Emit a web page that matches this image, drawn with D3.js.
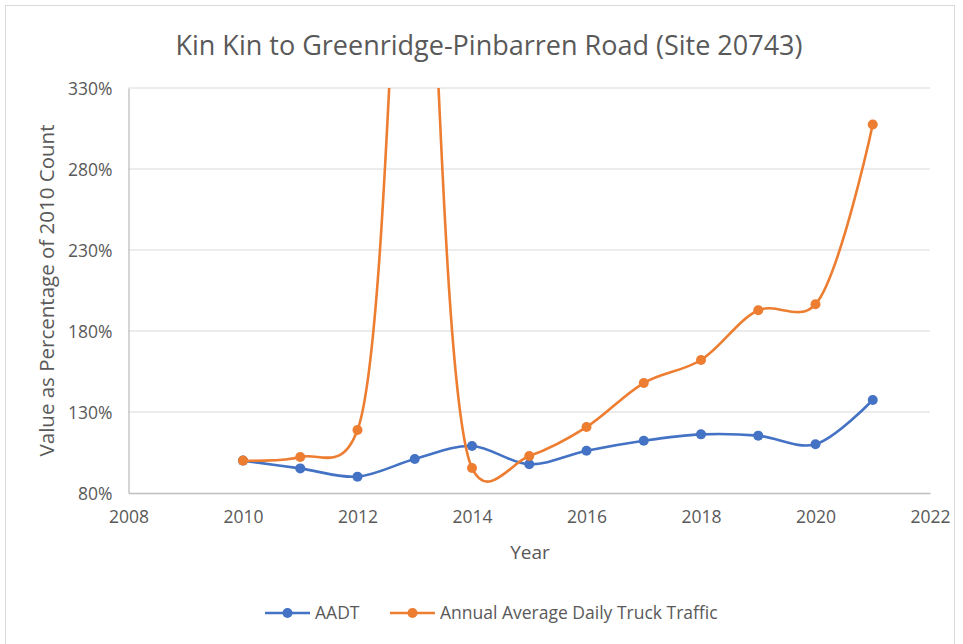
<!DOCTYPE html>
<html>
<head>
<meta charset="utf-8">
<script src="https://cdn.jsdelivr.net/npm/d3@7"></script>
<style>
  body { margin: 0; background: #fff; }
  text { font-family: "Open Sans", "Noto Sans", sans-serif; }
</style>
</head>
<body>
<svg id="chart"></svg>
<script>
const W = 963, H = 644;

// data (percent of 2010 count)
const years = [2010, 2011, 2012, 2013, 2014, 2015, 2016, 2017, 2018, 2019, 2020, 2021];
const aadt = [100, 95.2, 90.1, 101, 109, 97.7, 106.1, 112.3, 116.2, 115.4, 110.1, 137.4];
const truck = [100, 102.2, 118.9, 550, 95.4, 102.8, 120.7, 147.9, 162.1, 192.8, 196.5, 307.5];
const xTicks = [2008, 2010, 2012, 2014, 2016, 2018, 2020, 2022];
const yTicks = [80, 130, 180, 230, 280, 330];

const series = [
    { name: "AADT", values: aadt, color: "#4472C4" },
    { name: "Annual Average Daily Truck Traffic", values: truck, color: "#ED7D31" },
];

const margin = { left: 128.5, right: 33, top: 88, bottom: 151 };

let svg = d3.select("svg#chart").attr("width", W).attr("height", H);

// chart border
svg.append("rect")
    .attr("x", 5.5).attr("y", 5.5)
    .attr("width", 949).attr("height", 660)
    .attr("fill", "#fff")
    .attr("stroke", "#d9d9d9");

let x = d3.scaleLinear().domain([2008, 2022]).range([margin.left, W - margin.right]);
let y = d3.scaleLinear().domain([80, 330]).range([H - margin.bottom, margin.top]);

// gridlines
svg.append("g")
    .selectAll("line")
    .data(yTicks.slice(1))
    .enter()
    .append("line")
    .attr("x1", x(2008)).attr("x2", x(2022))
    .attr("y1", d => y(d)).attr("y2", d => y(d))
    .attr("stroke", "#d9d9d9")
    .attr("stroke-width", 1.2);

// axes
let yAxis = svg.append("g")
    .attr("transform", `translate(${x(2008)},0)`)
    .call(d3.axisLeft(y).tickValues(yTicks).tickFormat(d => d + "%").tickSize(0).tickPadding(16));
let xAxis = svg.append("g")
    .attr("transform", `translate(0,${y(80)})`)
    .call(d3.axisBottom(x).tickValues(xTicks).tickFormat(d3.format("d")).tickSize(0).tickPadding(18));

[xAxis, yAxis].forEach(g => {
    g.select(".domain").attr("stroke", "#bfbfbf").attr("stroke-width", 1.3);
    g.selectAll("text").attr("fill", "#595959").style("font-size", "17.5px")
        .style("font-family", '"Open Sans", sans-serif');
});
yAxis.selectAll("text").attr("dy", "0.35em");

// clip to plot area
svg.append("clipPath").attr("id", "plot")
    .append("rect")
    .attr("x", x(2008) - 8).attr("y", y(330))
    .attr("width", x(2022) - x(2008) + 16).attr("height", y(80) - y(330) + 8);

let line = d3.line()
    .x((d, i) => x(years[i]))
    .y(d => y(d))
    .curve(d3.curveCatmullRom.alpha(0.3));

let plot = svg.append("g").attr("clip-path", "url(#plot)");

series.forEach(s => {
    plot.append("path")
        .datum(s.values)
        .attr("d", line)
        .attr("fill", "none")
        .attr("stroke", s.color)
        .attr("stroke-width", 2.6)
        .attr("stroke-linejoin", "round");
    plot.selectAll()
        .data(s.values)
        .enter()
        .append("circle")
        .attr("cx", (d, i) => x(years[i]))
        .attr("cy", d => y(d))
        .attr("r", 5)
        .attr("fill", s.color);
});

// title
svg.append("text")
    .attr("x", 489).attr("y", 55)
    .attr("text-anchor", "middle")
    .attr("fill", "#595959")
    .style("font-size", "27px")
    .text("Kin Kin to Greenridge-Pinbarren Road (Site 20743)");

// axis titles
svg.append("text")
    .attr("x", 530).attr("y", 559)
    .attr("text-anchor", "middle")
    .attr("fill", "#595959")
    .style("font-size", "19px")
    .text("Year");

svg.append("text")
    .attr("transform", `translate(54,${(y(80) + y(330)) / 2}) rotate(-90)`)
    .attr("text-anchor", "middle")
    .attr("fill", "#595959")
    .style("font-size", "20.5px")
    .text("Value as Percentage of 2010 Count");

// legend
let legendPos = [265, 390];
let legend = svg.append("g")
    .selectAll("g")
    .data(series)
    .enter()
    .append("g")
    .attr("transform", (d, i) => `translate(${legendPos[i]},613)`);
legend.append("line")
    .attr("x1", 0).attr("x2", 45)
    .attr("stroke", d => d.color).attr("stroke-width", 2.6);
legend.append("circle")
    .attr("cx", 22.5).attr("r", 5)
    .attr("fill", d => d.color);
legend.append("text")
    .attr("x", 50).attr("dy", "0.35em")
    .attr("fill", "#595959")
    .style("font-size", "17.5px")
    .text(d => d.name);
</script>
</body>
</html>
